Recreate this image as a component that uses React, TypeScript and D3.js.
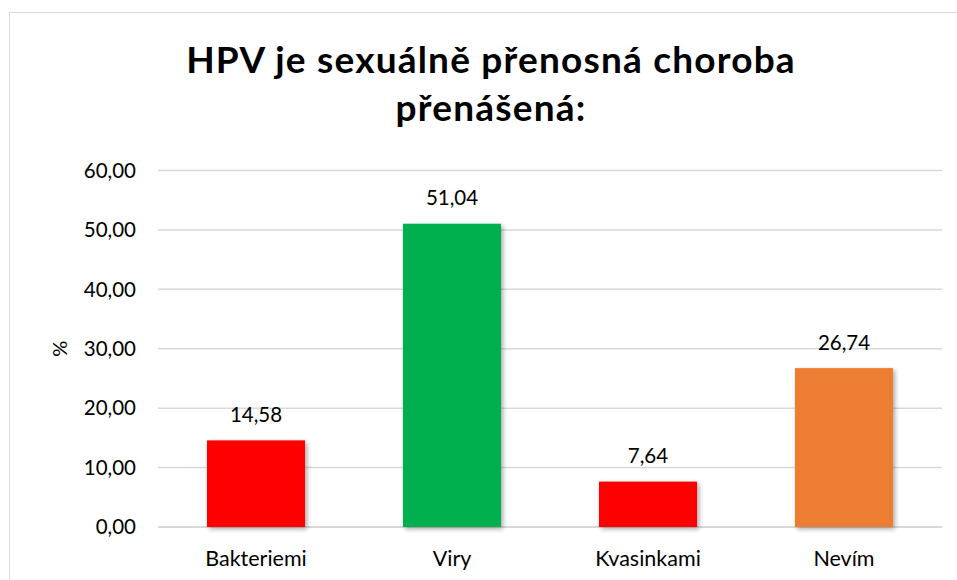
import React from "react";
import * as d3 from "d3";

const categories = ["Bakteriemi", "Viry", "Kvasinkami", "Nevím"];
const values = [14.58, 51.04, 7.64, 26.74];
const colors = ["#FF0000", "#00B050", "#FF0000", "#ED7D31"];
const yTicks = [0, 10, 20, 30, 40, 50, 60];
const titleLines = ["HPV je sexuálně přenosná choroba", "přenášená:"];
const yLabel = "%";

const W = 957;
const H = 580;
const plot = { left: 158, right: 942, top: 170.5, bottom: 527 };
const FONT = "Lato, 'Open Sans', sans-serif";

const fmt = (v: number) => v.toFixed(2).replace(".", ",");

export default function App() {
  const x = d3
    .scaleBand<string>()
    .domain(categories)
    .range([plot.left, plot.right])
    .paddingInner(0.5)
    .paddingOuter(0.25);
  const y = d3.scaleLinear().domain([0, 60]).range([plot.bottom, plot.top]);

  return (
    <svg
      width={W}
      height={H}
      style={{ position: "absolute", left: 0, top: 0, background: "#fff" }}
    >
      <defs>
        <filter id="shadow" x="-20%" y="-20%" width="140%" height="140%">
          <feGaussianBlur in="SourceAlpha" stdDeviation="2.5" />
          <feOffset dx="2" dy="2" result="b" />
          <feComponentTransfer>
            <feFuncA type="linear" slope="0.35" />
          </feComponentTransfer>
          <feMerge>
            <feMergeNode />
            <feMergeNode in="SourceGraphic" />
          </feMerge>
        </filter>
      </defs>
      <rect x={9.5} y={12.5} width={W} height={H} fill="#fff" stroke="#D9D9D9" strokeWidth={1} />

      {titleLines.map((t, i) => (
        <text
          key={i}
          x={491}
          y={73 + i * 48}
          textAnchor="middle"
          fontFamily={FONT}
          fontWeight={700}
          fontSize={37}
          letterSpacing={1.2}
          fill="#000"
        >
          {t}
        </text>
      ))}

      {yTicks.map((t) => (
        <g key={t}>
          <line
            x1={plot.left}
            x2={plot.right}
            y1={y(t)}
            y2={y(t)}
            stroke="#D9D9D9"
            strokeWidth={t === 0 ? 2 : 1.5}
          />
          <text
            x={136}
            y={y(t)}
            dy="0.35em"
            textAnchor="end"
            fontFamily={FONT}
            fontSize={20.5}
            fill="#000"
          >
            {fmt(t)}
          </text>
        </g>
      ))}

      <text
        transform={`translate(67, ${y(30)}) rotate(-90)`}
        textAnchor="middle"
        fontFamily={FONT}
        fontSize={20}
        fill="#000"
      >
        {yLabel}
      </text>

      {categories.map((c, i) => (
        <g key={c}>
          <rect
            x={x(c)}
            y={y(values[i])}
            width={x.bandwidth()}
            height={y(0) - y(values[i])}
            fill={colors[i]}
            filter="url(#shadow)"
          />
          <text
            x={(x(c) as number) + x.bandwidth() / 2}
            y={y(values[i]) - 18.5}
            textAnchor="middle"
            fontFamily={FONT}
            fontSize={20.5}
            fill="#000"
          >
            {fmt(values[i])}
          </text>
          <text
            x={(x(c) as number) + x.bandwidth() / 2}
            y={566}
            textAnchor="middle"
            fontFamily={FONT}
            fontSize={21.5}
            fill="#000"
          >
            {c}
          </text>
        </g>
      ))}
    </svg>
  );
}
